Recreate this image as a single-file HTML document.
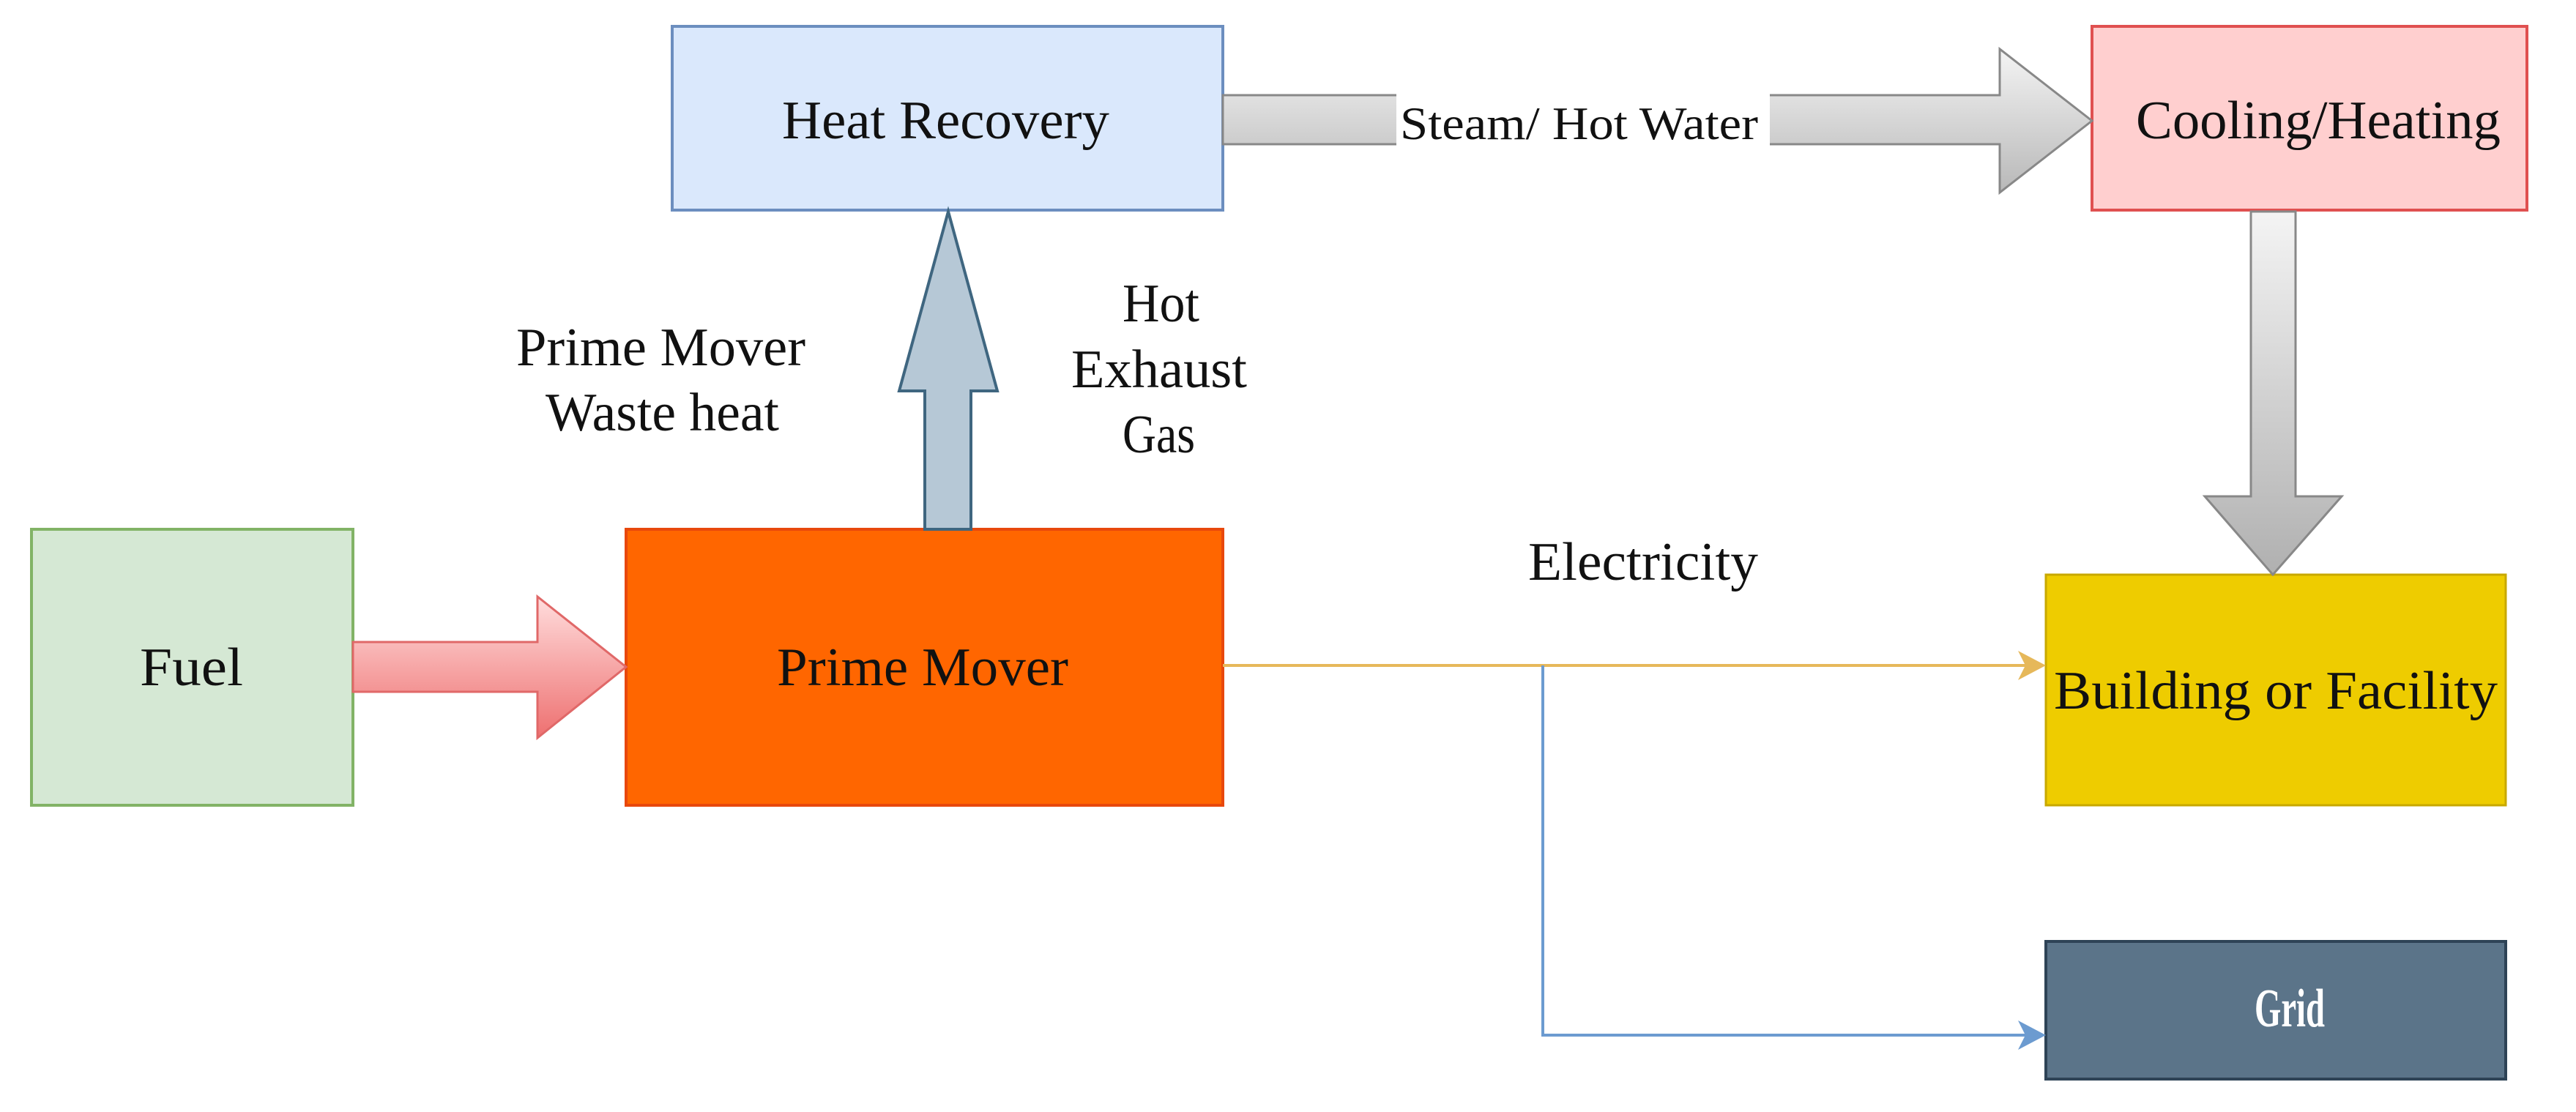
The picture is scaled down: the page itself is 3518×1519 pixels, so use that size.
<!DOCTYPE html>
<html><head><style>
html,body{margin:0;padding:0;background:#fff;}
svg{display:block;}
text{font-family:"Liberation Serif",serif;fill:#111;}
</style></head><body>
<svg width="3518" height="1519" viewBox="0 0 3518 1519" xmlns="http://www.w3.org/2000/svg">
<defs>
<linearGradient id="gh" x1="0" y1="0" x2="0" y2="1"><stop offset="0" stop-color="#f4f4f4"/><stop offset="1" stop-color="#b8b8b8"/></linearGradient>
<linearGradient id="gv" x1="0" y1="0" x2="0" y2="1"><stop offset="0" stop-color="#f4f4f4"/><stop offset="1" stop-color="#b0b0b0"/></linearGradient>
<linearGradient id="gr" x1="0" y1="0" x2="0" y2="1"><stop offset="0" stop-color="#fdd" /><stop offset="1" stop-color="#ee7070"/></linearGradient>
</defs>
<rect x="918" y="36" width="752" height="251" fill="#dae8fc" stroke="#6c8ebf" stroke-width="4"/>
<rect x="2857" y="36" width="594" height="251" fill="#ffcfcf" stroke="#e05050" stroke-width="4"/>
<rect x="43" y="723" width="439" height="377" fill="#d5e8d4" stroke="#82b366" stroke-width="4"/>
<rect x="855" y="723" width="815" height="377" fill="#ff6600" stroke="#e8480c" stroke-width="4"/>
<rect x="2794" y="785" width="628" height="315" fill="#eecc00" stroke="#c8a800" stroke-width="3"/>
<rect x="2794" y="1286" width="628" height="188" fill="#5b7489" stroke="#2e4356" stroke-width="4"/>
<polygon points="482,877 734,877 734,815 855,911 734,1008 734,945 482,945" fill="url(#gr)" stroke="#e06868" stroke-width="3"/>
<polygon points="1263,723 1263,534 1228,534 1295,289 1362,534 1326,534 1326,723" fill="#b6c8d6" stroke="#3f6680" stroke-width="4"/>
<polygon points="1670,130 2731,130 2731,67 2857,165 2731,263 2731,197 1670,197" fill="url(#gh)" stroke="#888" stroke-width="3"/>
<rect x="1907" y="125" width="510" height="80" fill="#fff"/>
<polygon points="3074,289 3135,289 3135,678 3198,678 3104,785 3011,678 3074,678" fill="url(#gv)" stroke="#888" stroke-width="3"/>
<line x1="1670" y1="909" x2="2780" y2="909" stroke="#e6b85a" stroke-width="4"/>
<polygon points="2794,909 2756,889 2766,909 2756,929" fill="#e6b85a"/>
<polyline points="2107,909 2107,1414 2780,1414" fill="none" stroke="#6c9bd0" stroke-width="4"/>
<polygon points="2794,1414 2756,1394 2766,1414 2756,1434" fill="#6c9bd0"/>
<g font-size="74">
<text x="1068" y="189" textLength="447" lengthAdjust="spacingAndGlyphs">Heat Recovery</text>
<text x="2917" y="189" textLength="498" lengthAdjust="spacingAndGlyphs">Cooling/Heating</text>
<text x="191" y="936" textLength="141" lengthAdjust="spacingAndGlyphs">Fuel</text>
<text x="1061" y="936" textLength="398" lengthAdjust="spacingAndGlyphs">Prime Mover</text>
<text x="2805" y="968" textLength="606" lengthAdjust="spacingAndGlyphs">Building or Facility</text>
<text x="3079" y="1402" textLength="96" lengthAdjust="spacingAndGlyphs" style="fill:#fff;font-weight:bold">Grid</text>
<text x="705" y="499" textLength="395" lengthAdjust="spacingAndGlyphs">Prime Mover</text>
<text x="745" y="588" textLength="319" lengthAdjust="spacingAndGlyphs">Waste heat</text>
<text x="1533" y="439" textLength="105" lengthAdjust="spacingAndGlyphs">Hot</text>
<text x="1463" y="529" textLength="240" lengthAdjust="spacingAndGlyphs">Exhaust</text>
<text x="1533" y="618" textLength="99" lengthAdjust="spacingAndGlyphs">Gas</text>
<text x="2087" y="792" textLength="314" lengthAdjust="spacingAndGlyphs">Electricity</text>
</g>
<text x="1912" y="190" font-size="64" textLength="489" lengthAdjust="spacingAndGlyphs">Steam/ Hot Water</text>
</svg>
</body></html>
